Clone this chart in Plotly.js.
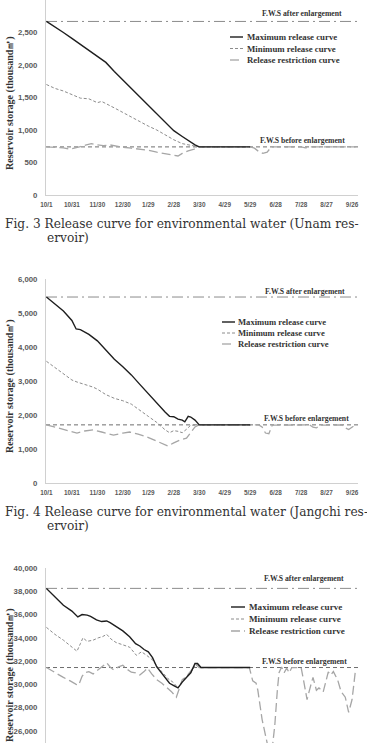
<!DOCTYPE html>
<html>
<head>
<meta charset="utf-8">
<script src="https://cdn.plot.ly/plotly-3.0.1.min.js"></script>
<style>
  html, body { margin: 0; padding: 0; background: #fff; overflow: hidden; }
  #chart { width: 367px; height: 743px; }
</style>
</head>
<body>
<div id="chart"></div>
<script>
// ---------- shared axis data ----------
const tickDays   = [0, 30, 60, 90, 120, 150, 180, 210, 240, 270, 300, 330, 360];
const tickLabels = ['10/1','10/31','11/30','12/30','1/29','2/28','3/30','4/29','5/29','6/28','7/28','8/27','9/26'];
const dayRange   = [-0.5, 367];

// ---------- Fig. 3 Unam reservoir ----------
const unamFwsAfter  = 2670;
const unamFwsBefore = 740;
const unamMaxDay = [0,10,20,30,40,46,50,60,63,70,80,90,100,110,120,130,140,150,160,170,175,180,240];
const unamMaxVal = [2670,2590,2500,2410,2320,2260,2220,2130,2110,2040,1900,1770,1640,1500,1370,1240,1110,990,900,810,770,740,740];
const unamMinDay = [0,10,20,30,40,50,55,60,65,70,80,90,100,110,120,130,140,150,160,170,180,240];
const unamMinVal = [1700,1640,1600,1540,1490,1480,1450,1420,1440,1410,1340,1270,1200,1120,1060,1000,920,850,790,760,740,740];
const unamResDay = [0,10,20,27,33,40,47,53,60,67,75,82,90,100,110,120,130,140,150,155,160,167,173,180,240,245,250,255,260,265,300,305,310,364];
const unamResVal = [740,735,725,705,720,745,770,790,770,760,770,750,735,720,710,690,660,630,610,600,640,680,700,740,740,720,670,640,660,740,740,725,740,740];

// ---------- Fig. 4 Jangchi reservoir ----------
const jangFwsAfter  = 5470;
const jangFwsBefore = 1710;
const jangMaxDay = [0,10,20,30,35,40,45,50,60,70,80,90,100,110,120,130,140,145,150,155,160,163,167,170,175,180,240];
const jangMaxVal = [5470,5270,5060,4780,4530,4510,4450,4370,4180,3900,3640,3420,3180,2900,2620,2350,2080,1960,1950,1880,1850,1800,1960,1940,1850,1710,1710];
const jangMinDay = [0,10,20,30,36,45,55,60,70,80,90,100,110,120,130,140,145,150,155,160,165,170,180,240];
const jangMinVal = [3580,3400,3210,3030,2970,2900,2820,2760,2600,2490,2420,2320,2130,1960,1780,1560,1480,1540,1520,1480,1580,1700,1710,1710];
const jangResDay = [0,10,20,30,36,45,55,65,79,90,98,108,118,130,143,150,157,165,170,175,180,250,254,258,262,266,310,314,318,322,348,352,356,360,364];
const jangResVal = [1710,1640,1560,1490,1470,1530,1560,1500,1410,1470,1500,1440,1360,1230,1090,1180,1260,1320,1500,1650,1710,1710,1650,1470,1450,1700,1710,1640,1620,1700,1710,1620,1570,1650,1710];

// ---------- third reservoir ----------
const thirdFwsAfter  = 38250;
const thirdFwsBefore = 31450;
const thirdMaxDay = [0,10,20,30,37,42,48,52,59,65,71,75,83,90,98,105,110,115,120,125,130,135,140,145,150,155,160,165,170,175,178,182,240];
const thirdMaxVal = [38250,37500,36800,36300,35800,36000,35950,35850,35550,35400,35450,35300,34950,34600,34100,33500,33300,33000,32800,32300,31500,31000,30600,30100,29900,29700,30200,30600,31000,31800,31800,31450,31450];
const thirdMinDay = [0,10,20,30,36,40,43,48,55,61,66,71,76,82,90,98,106,112,118,125,131,137,143,149,155,160,165,170,175,178,182,240];
const thirdMinVal = [34900,34300,33800,33200,32850,33500,34000,33700,33800,34000,34100,34300,33900,33600,33400,33200,32500,32800,32500,32100,31500,31000,30500,30200,29700,30300,30700,31000,31600,31700,31450,31450];
const thirdResDay = [0,10,20,28,35,38,42,45,50,55,63,71,75,79,85,90,95,100,105,110,115,119,124,130,136,141,147,153,157,160,165,168,172,176,180,239,243,247,249,254,259,262,266,269,272,274,277,280,283,286,289,300,303,307,312,314,318,321,326,330,332,335,338,343,347,352,356,360,364];
const thirdResVal = [31450,31000,30600,30300,30000,29950,30700,31000,31100,30900,31400,31850,31500,31250,31500,31650,31300,31050,31000,30800,31100,31400,30900,30400,30100,29800,29400,28900,29800,30400,30700,31000,31300,31700,31450,31450,30300,30100,29500,27000,25300,24300,24500,26500,29500,31000,31500,31000,31400,31000,31450,31450,30300,28700,30100,30600,29500,29700,29350,30550,31070,30800,31100,30400,29400,28900,27600,28700,31200];

// ---------- helpers ----------
const W = 367, H = 743;
const PX = v => v / W;
const PY = v => 1 - v / H;

const C_MAX = '#1e1e1e', C_MIN = '#8c8c8c', C_RES = '#a6a6a6', C_AFT = '#8c8c8c', C_BEF = '#6e6e6e';
const D_MIN = '3px,2px', D_RES = '9px,4px', D_AFT = '11px,4px,2px,4px', D_BEF = '4px,3px';

function seriesFor(xa, ya, maxD, maxV, minD, minV, resD, resV, fAft, fBef) {
  return [
    {x: dayRange, y: [fBef, fBef], xaxis: xa, yaxis: ya, mode: 'lines', name: 'F.W.S before enlargement',
     line: {color: C_BEF, width: 1, dash: D_BEF}, hoverinfo: 'skip'},
    {x: dayRange, y: [fAft, fAft], xaxis: xa, yaxis: ya, mode: 'lines', name: 'F.W.S after enlargement',
     line: {color: C_AFT, width: 1, dash: D_AFT}, hoverinfo: 'skip'},
    {x: resD, y: resV, xaxis: xa, yaxis: ya, mode: 'lines', name: 'Release restriction curve',
     line: {color: C_RES, width: 1.3, dash: D_RES}},
    {x: minD, y: minV, xaxis: xa, yaxis: ya, mode: 'lines', name: 'Minimum release curve',
     line: {color: C_MIN, width: 1, dash: D_MIN}},
    {x: maxD, y: maxV, xaxis: xa, yaxis: ya, mode: 'lines', name: 'Maximum release curve',
     line: {color: C_MAX, width: 1.4}}
  ];
}

const traces = [].concat(
  seriesFor('x', 'y', unamMaxDay, unamMaxVal, unamMinDay, unamMinVal, unamResDay, unamResVal, unamFwsAfter, unamFwsBefore),
  seriesFor('x2', 'y2', jangMaxDay, jangMaxVal, jangMinDay, jangMinVal, jangResDay, jangResVal, jangFwsAfter, jangFwsBefore),
  seriesFor('x3', 'y3', thirdMaxDay, thirdMaxVal, thirdMinDay, thirdMinVal, thirdResDay, thirdResVal, thirdFwsAfter, thirdFwsBefore)
);

const xDom = [PX(46), PX(358)];
const tickFontY = {family: 'Liberation Sans, Arial, sans-serif', size: 7.8, color: '#595959', weight: 'bold'};
const tickFontX = {family: 'Liberation Sans, Arial, sans-serif', size: 6.4, color: '#595959', weight: 'bold'};
const LINE_C = '#d0d0d0';

function xAxis(anchor, show) {
  return {domain: xDom, range: dayRange, anchor: anchor, tickmode: 'array', tickvals: tickDays, ticktext: tickLabels,
    tickfont: tickFontX, showline: show, linecolor: LINE_C, linewidth: 1, showgrid: false, zeroline: false,
    showticklabels: show, ticks: '', ticklabelstandoff: 3, fixedrange: true, automargin: false};
}
function yAxis(anchor, dom, rng, dt) {
  return {domain: dom, range: rng, anchor: anchor, dtick: dt, tick0: 0, tickformat: ',d', tickfont: tickFontY,
    showline: true, linecolor: LINE_C, linewidth: 1, showgrid: false, zeroline: false, ticks: '',
    ticklabelstandoff: 6, fixedrange: true, automargin: false};
}

const serifBold = {family: 'Liberation Serif, Times New Roman, serif', color: '#333333', weight: 'bold'};
const capFont = {family: 'DejaVu Serif, serif', size: 12.2, color: '#333333'};

const annotations = [];
const shapes = [];
function textAt(x, y, text, font, xanchor, angle) {
  annotations.push({xref: 'paper', yref: 'paper', x: PX(x), y: PY(y), text: text, showarrow: false,
    xanchor: xanchor || 'left', yanchor: 'middle', font: font, textangle: angle || 0});
}
function legendBlock(x0, x1, tx, ys, size) {
  const items = [
    ['Maximum release curve', C_MAX, 1.4, 'solid'],
    ['Minimum release curve', C_MIN, 1, D_MIN],
    ['Release restriction curve', C_RES, 1.3, D_RES]
  ];
  items.forEach((it, i) => {
    shapes.push({type: 'line', xref: 'paper', yref: 'paper', x0: PX(x0), x1: PX(x1), y0: PY(ys[i]), y1: PY(ys[i]),
      line: {color: it[1], width: it[2], dash: it[3]}});
    textAt(tx, ys[i], it[0], Object.assign({}, serifBold, {size: size}));
  });
}

// y titles
const yTitle = 'Reservoir storage (thousand㎥)';
textAt(10, 103, yTitle, Object.assign({}, serifBold, {size: 10}), 'center', -90);
textAt(10, 386, yTitle, Object.assign({}, serifBold, {size: 10}), 'center', -90);
textAt(10, 675, yTitle, Object.assign({}, serifBold, {size: 10}), 'center', -90);

// F.W.S labels
const fwsFont = Object.assign({}, serifBold, {size: 7.7});
textAt(302, 14, 'F.W.S after enlargement', fwsFont, 'center');
textAt(302, 140, 'F.W.S before enlargement', fwsFont, 'center');
textAt(305, 291, 'F.W.S after enlargement', fwsFont, 'center');
textAt(306, 418, 'F.W.S before enlargement', fwsFont, 'center');
textAt(304, 578, 'F.W.S after enlargement', fwsFont, 'center');
textAt(304, 661, 'F.W.S before enlargement', fwsFont, 'center');

// legends
legendBlock(230, 243, 244.5, [37, 48.5, 60], 8.8);
legendBlock(222, 235, 236, [322, 333, 344], 8.6);
legendBlock(231, 245, 246.5, [607, 619, 631], 9.1);

// captions
textAt(3, 224, 'Fig. 3 Release curve for environmental water (Unam res-', capFont, 'left');
textAt(45, 238, 'ervoir)', capFont, 'left');
textAt(3, 512, 'Fig. 4 Release curve for environmental water (Jangchi res-', capFont, 'left');
textAt(45, 526, 'ervoir)', capFont, 'left');

const layout = {
  width: W, height: H,
  margin: {l: 0, r: 0, t: 0, b: 0, pad: 0},
  paper_bgcolor: '#ffffff', plot_bgcolor: '#ffffff',
  showlegend: false,
  xaxis: xAxis('y', true),
  yaxis: yAxis('x', [PY(195), 1], [0, 3000], 500),
  xaxis2: xAxis('y2', true),
  yaxis2: yAxis('x2', [PY(483), PY(279)], [0, 6000], 1000),
  xaxis3: xAxis('y3', false),
  yaxis3: yAxis('x3', [0, PY(568)], [24966, 40000.5], 2000),
  annotations: annotations,
  shapes: shapes
};

Plotly.newPlot('chart', traces, layout, {staticPlot: true, displayModeBar: false, responsive: false});
</script>
</body>
</html>
